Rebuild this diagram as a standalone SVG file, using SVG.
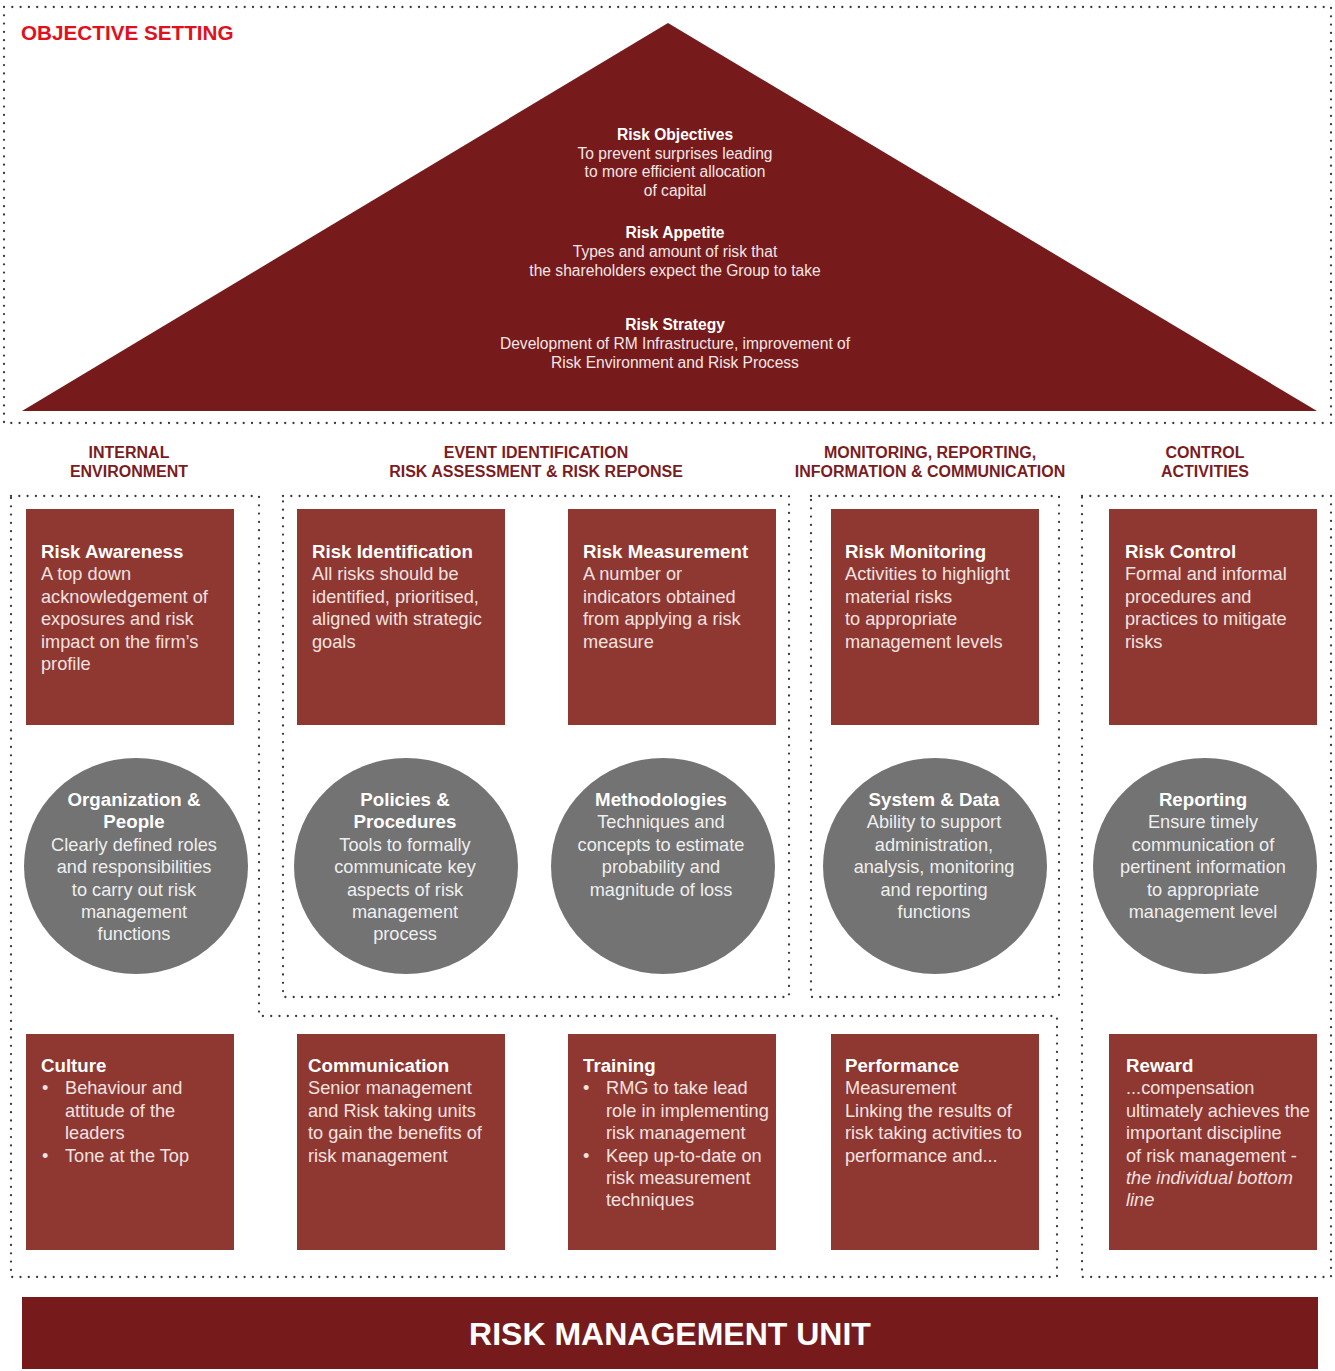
<svg xmlns="http://www.w3.org/2000/svg" width="1335" height="1371" viewBox="0 0 1335 1371">
<style>
.dot{fill:none;stroke:#3a3a3a;stroke-width:2.3;stroke-dasharray:0 8.3;stroke-linecap:round}
.tri{fill:#771a1b}
.box{fill:#8f3832}
.circ{fill:#737373}
.bar{fill:#771a1b}
text{font-family:"Liberation Sans",Arial,sans-serif}
.obj{fill:#e0101e;font-size:20.7px;font-weight:bold}
.hd{fill:#7b1c1f;font-size:16px;font-weight:bold;text-anchor:middle}
.tt{fill:#ffffff;font-size:15.6px;font-weight:bold;text-anchor:middle}
.tb{fill:#f3e6e6;font-size:15.6px;text-anchor:middle}
.bt{fill:#ffffff;font-size:18.7px;font-weight:bold}
.bb{fill:#f3e2e0;font-size:18.2px}
.ct{fill:#ffffff;font-size:18.7px;font-weight:bold;text-anchor:middle}
.cb{fill:#efefef;font-size:18.2px;text-anchor:middle}
.it{font-style:italic}
.unit{fill:#ffffff;font-size:32px;font-weight:bold;text-anchor:middle}
</style>

<g id="frames">
<rect class="dot" x="4" y="7" width="1327" height="416"/>
<path class="dot" d="M11,496 H259 V1016 H1057 V1277 H11 Z"/>
<rect class="dot" x="283" y="496" width="506" height="501"/>
<rect class="dot" x="811" y="496" width="248" height="501"/>
<rect class="dot" x="1082" y="496" width="249" height="781"/>
</g>

<g id="objective-setting">
<text class="obj" x="21" y="40">OBJECTIVE SETTING</text>
<polygon class="tri" points="668,23 1317,411 22,411"/>
<text class="tt" x="675" y="140">Risk Objectives</text>
<text class="tb" x="675" y="159">To prevent surprises leading</text>
<text class="tb" x="675" y="177">to more efficient allocation</text>
<text class="tb" x="675" y="196">of capital</text>
<text class="tt" x="675" y="238">Risk Appetite</text>
<text class="tb" x="675" y="257">Types and amount of risk that</text>
<text class="tb" x="675" y="276">the shareholders expect the Group to take</text>
<text class="tt" x="675" y="330">Risk Strategy</text>
<text class="tb" x="675" y="349">Development of RM Infrastructure, improvement of</text>
<text class="tb" x="675" y="368">Risk Environment and Risk Process</text>
</g>

<g id="headers">
<text class="hd" x="129" y="458">INTERNAL</text>
<text class="hd" x="129" y="477">ENVIRONMENT</text>
<text class="hd" x="536" y="458">EVENT IDENTIFICATION</text>
<text class="hd" x="536" y="477">RISK ASSESSMENT &amp; RISK REPONSE</text>
<text class="hd" x="930" y="458">MONITORING, REPORTING,</text>
<text class="hd" x="930" y="477">INFORMATION &amp; COMMUNICATION</text>
<text class="hd" x="1205" y="458">CONTROL</text>
<text class="hd" x="1205" y="477">ACTIVITIES</text>
</g>

<g id="risk-awareness">
<rect class="box" x="26" y="509" width="208" height="216"/>
<text class="bt" x="41" y="558">Risk Awareness</text>
<text class="bb" x="41" y="580">A top down</text>
<text class="bb" x="41" y="603">acknowledgement of</text>
<text class="bb" x="41" y="625">exposures and risk</text>
<text class="bb" x="41" y="648">impact on the firm’s</text>
<text class="bb" x="41" y="670">profile</text>
</g>

<g id="risk-identification">
<rect class="box" x="297" y="509" width="208" height="216"/>
<text class="bt" x="312" y="558">Risk Identification</text>
<text class="bb" x="312" y="580">All risks should be</text>
<text class="bb" x="312" y="603">identified, prioritised,</text>
<text class="bb" x="312" y="625">aligned with strategic</text>
<text class="bb" x="312" y="648">goals</text>
</g>

<g id="risk-measurement">
<rect class="box" x="568" y="509" width="208" height="216"/>
<text class="bt" x="583" y="558">Risk Measurement</text>
<text class="bb" x="583" y="580">A number or</text>
<text class="bb" x="583" y="603">indicators obtained</text>
<text class="bb" x="583" y="625">from applying a risk</text>
<text class="bb" x="583" y="648">measure</text>
</g>

<g id="risk-monitoring">
<rect class="box" x="831" y="509" width="208" height="216"/>
<text class="bt" x="845" y="558">Risk Monitoring</text>
<text class="bb" x="845" y="580">Activities to highlight</text>
<text class="bb" x="845" y="603">material risks</text>
<text class="bb" x="845" y="625">to appropriate</text>
<text class="bb" x="845" y="648">management levels</text>
</g>

<g id="risk-control">
<rect class="box" x="1109" y="509" width="208" height="216"/>
<text class="bt" x="1125" y="558">Risk Control</text>
<text class="bb" x="1125" y="580">Formal and informal</text>
<text class="bb" x="1125" y="603">procedures and</text>
<text class="bb" x="1125" y="625">practices to mitigate</text>
<text class="bb" x="1125" y="648">risks</text>
</g>

<g id="organization-people">
<ellipse class="circ" cx="136" cy="866" rx="112" ry="108"/>
<text class="ct" x="134" y="806">Organization &amp;</text>
<text class="ct" x="134" y="828">People</text>
<text class="cb" x="134" y="851">Clearly defined roles</text>
<text class="cb" x="134" y="873">and responsibilities</text>
<text class="cb" x="134" y="896">to carry out risk</text>
<text class="cb" x="134" y="918">management</text>
<text class="cb" x="134" y="940">functions</text>
</g>

<g id="policies-procedures">
<ellipse class="circ" cx="406" cy="866" rx="112" ry="108"/>
<text class="ct" x="405" y="806">Policies &amp;</text>
<text class="ct" x="405" y="828">Procedures</text>
<text class="cb" x="405" y="851">Tools to formally</text>
<text class="cb" x="405" y="873">communicate key</text>
<text class="cb" x="405" y="896">aspects of risk</text>
<text class="cb" x="405" y="918">management</text>
<text class="cb" x="405" y="940">process</text>
</g>

<g id="methodologies">
<ellipse class="circ" cx="663" cy="866" rx="112" ry="108"/>
<text class="ct" x="661" y="806">Methodologies</text>
<text class="cb" x="661" y="828">Techniques and</text>
<text class="cb" x="661" y="851">concepts to estimate</text>
<text class="cb" x="661" y="873">probability and</text>
<text class="cb" x="661" y="896">magnitude of loss</text>
</g>

<g id="system-data">
<ellipse class="circ" cx="935" cy="866" rx="112" ry="108"/>
<text class="ct" x="934" y="806">System &amp; Data</text>
<text class="cb" x="934" y="828">Ability to support</text>
<text class="cb" x="934" y="851">administration,</text>
<text class="cb" x="934" y="873">analysis, monitoring</text>
<text class="cb" x="934" y="896">and reporting</text>
<text class="cb" x="934" y="918">functions</text>
</g>

<g id="reporting">
<ellipse class="circ" cx="1205" cy="866" rx="112" ry="108"/>
<text class="ct" x="1203" y="806">Reporting</text>
<text class="cb" x="1203" y="828">Ensure timely</text>
<text class="cb" x="1203" y="851">communication of</text>
<text class="cb" x="1203" y="873">pertinent information</text>
<text class="cb" x="1203" y="896">to appropriate</text>
<text class="cb" x="1203" y="918">management level</text>
</g>

<g id="culture">
<rect class="box" x="26" y="1034" width="208" height="216"/>
<text class="bt" x="41" y="1072">Culture</text>
<text class="bb" x="42" y="1094">•</text>
<text class="bb" x="65" y="1094">Behaviour and</text>
<text class="bb" x="65" y="1117">attitude of the</text>
<text class="bb" x="65" y="1139">leaders</text>
<text class="bb" x="42" y="1162">•</text>
<text class="bb" x="65" y="1162">Tone at the Top</text>
</g>

<g id="communication">
<rect class="box" x="297" y="1034" width="208" height="216"/>
<text class="bt" x="308" y="1072">Communication</text>
<text class="bb" x="308" y="1094">Senior management</text>
<text class="bb" x="308" y="1117">and Risk taking units</text>
<text class="bb" x="308" y="1139">to gain the benefits of</text>
<text class="bb" x="308" y="1162">risk management</text>
</g>

<g id="training">
<rect class="box" x="568" y="1034" width="208" height="216"/>
<text class="bt" x="583" y="1072">Training</text>
<text class="bb" x="583" y="1094">•</text>
<text class="bb" x="606" y="1094">RMG to take lead</text>
<text class="bb" x="606" y="1117">role in implementing</text>
<text class="bb" x="606" y="1139">risk management</text>
<text class="bb" x="583" y="1162">•</text>
<text class="bb" x="606" y="1162">Keep up-to-date on</text>
<text class="bb" x="606" y="1184">risk measurement</text>
<text class="bb" x="606" y="1206">techniques</text>
</g>

<g id="performance-measurement">
<rect class="box" x="831" y="1034" width="208" height="216"/>
<text class="bt" x="845" y="1072">Performance</text>
<text class="bb" x="845" y="1094">Measurement</text>
<text class="bb" x="845" y="1117">Linking the results of</text>
<text class="bb" x="845" y="1139">risk taking activities to</text>
<text class="bb" x="845" y="1162">performance and...</text>
</g>

<g id="reward">
<rect class="box" x="1109" y="1034" width="208" height="216"/>
<text class="bt" x="1126" y="1072">Reward</text>
<text class="bb" x="1126" y="1094">...compensation</text>
<text class="bb" x="1126" y="1117">ultimately achieves the</text>
<text class="bb" x="1126" y="1139">important discipline</text>
<text class="bb" x="1126" y="1162">of risk management -</text>
<text class="bb it" x="1126" y="1184">the individual bottom</text>
<text class="bb it" x="1126" y="1206">line</text>
</g>

<g id="risk-management-unit">
<rect class="bar" x="22" y="1297" width="1296" height="72"/>
<text class="unit" x="670" y="1345">RISK MANAGEMENT UNIT</text>
</g>

<g id="connectors"></g>
</svg>
